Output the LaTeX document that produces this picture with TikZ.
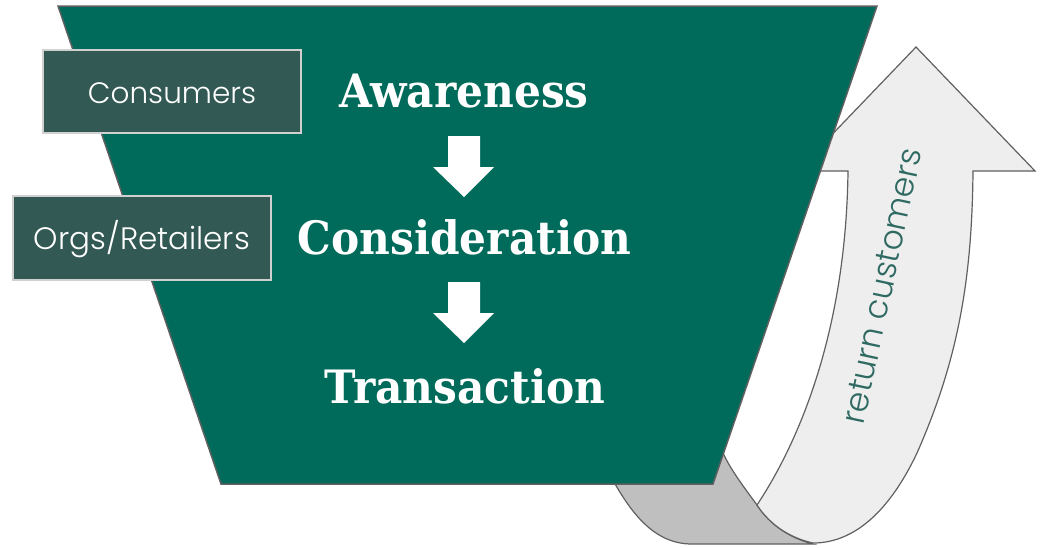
\documentclass[tikz,border=0pt]{standalone}
\usepackage{fontspec}
\newfontfamily\stagefont{DejaVu Serif}
\newfontfamily\tagfont{Poppins Light}
\definecolor{funnel}{HTML}{006B5A}
\definecolor{tagfill}{HTML}{325954}
\definecolor{tagedge}{HTML}{D0D0D0}
\definecolor{ribbonfront}{HTML}{EEEEEE}
\definecolor{ribbonback}{HTML}{BFBFBF}
\definecolor{edgegray}{HTML}{606060}
\definecolor{looptext}{HTML}{2F6A62}
\newcommand{\stagetext}[1]{\scalebox{0.92}[1]{#1}}
\begin{document}
\begin{tikzpicture}[x=1pt,y=-1pt,
  stage/.style={text=white, font=\stagefont\bfseries\fontsize{46}{50}\selectfont, anchor=base, inner sep=0pt},
  tagbox/.style={draw=tagedge, line width=1.5pt, fill=tagfill, text=white,
    font=\tagfont\fontsize{29.5}{33}\selectfont, inner sep=0pt,
    text height=23pt, text depth=0pt},
  flowarrow/.style={fill=white},
  ribbon/.style={draw=edgegray, line width=1.2pt}]
\useasboundingbox (0,0) rectangle (1044,547);

% back face of the return ribbon
\path[ribbon, fill=ribbonback] (605,465) .. controls (630,515) and (655,544) .. (692,544)
  -- (813,544) .. controls (790,538) and (770,525) .. (757,505)
  .. controls (740,482) and (730,468) .. (723,453) -- (705,420) -- cycle;

% front face with the arrow head
\path[ribbon, fill=ribbonfront] (916,47) -- (1035,171) -- (973,171)
  .. controls (972,280) and (958,360) .. (917,453)
  .. controls (890,510) and (855,543) .. (813,543)
  .. controls (790,538) and (770,525) .. (757,505)
  .. controls (800,440) and (846,330) .. (848,171)
  -- (797,171) -- cycle;

\node[rotate=78, text=looptext, font=\tagfont\fontsize{33}{37}\selectfont, inner sep=0pt] (loop) at (882,286) {return customers};

% funnel body
\path[draw=edgegray, line width=1.5pt, fill=funnel] (58,6) -- (877,6) -- (713,484) -- (221,484) -- cycle;

% funnel stages
\node[stage] (aware) at (464,107) {\stagetext{Awareness}};
\node[stage] (consider) at (464.5,254) {\stagetext{Consideration}};
\node[stage] (trans) at (465,403) {\stagetext{Transaction}};

% block arrows between stages
\path[flowarrow] (448,136) -- (480,136) -- (480,167) -- (494,167) -- (464,197) -- (433,167) -- (448,167) -- cycle;
\path[flowarrow] (448,282) -- (480,282) -- (480,313) -- (494,313) -- (464,343) -- (433,313) -- (448,313) -- cycle;

% audience tags
\node[tagbox, minimum width=258pt, minimum height=83pt] (consumers) at (172,91.5) {Consumers};
\node[tagbox, minimum width=258pt, minimum height=84pt, font=\tagfont\fontsize{31}{35}\selectfont] (orgs) at (142,238) {Orgs/Retailers};
\end{tikzpicture}
\end{document}
